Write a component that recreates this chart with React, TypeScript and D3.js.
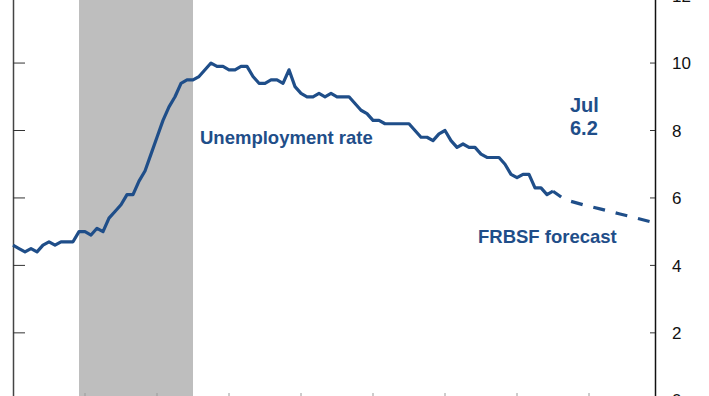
import React from "react";
import * as d3 from "d3";

// Monthly unemployment rate, Jan 2007 .. Jul 2014
const startYear = 2007;
const unemployment: number[] = [
  4.6, 4.5, 4.4, 4.5, 4.4, 4.6, 4.7, 4.6, 4.7, 4.7, 4.7, 5.0,
  5.0, 4.9, 5.1, 5.0, 5.4, 5.6, 5.8, 6.1, 6.1, 6.5, 6.8, 7.3,
  7.8, 8.3, 8.7, 9.0, 9.4, 9.5, 9.5, 9.6, 9.8, 10.0, 9.9, 9.9,
  9.8, 9.8, 9.9, 9.9, 9.6, 9.4, 9.4, 9.5, 9.5, 9.4, 9.8, 9.3,
  9.1, 9.0, 9.0, 9.1, 9.0, 9.1, 9.0, 9.0, 9.0, 8.8, 8.6, 8.5,
  8.3, 8.3, 8.2, 8.2, 8.2, 8.2, 8.2, 8.0, 7.8, 7.8, 7.7, 7.9,
  8.0, 7.7, 7.5, 7.6, 7.5, 7.5, 7.3, 7.2, 7.2, 7.2, 7.0, 6.7,
  6.6, 6.7, 6.7, 6.3, 6.3, 6.1, 6.2,
];
// Forecast: month index since Jan 2007 and value
const forecastMonths: number[] = [90, 92, 95, 98, 101, 104, 107];
const forecastValues: number[] = [6.2, 5.95, 5.8, 5.67, 5.53, 5.4, 5.26];
// Recession: Dec 2007 .. Jun 2009 (inclusive)
const recessionStart = 11;
const recessionEnd = 30;
const yearTicks: number[] = [2008, 2009, 2010, 2011, 2012, 2013, 2014, 2015];
const yTicks: number[] = [0, 2, 4, 6, 8, 10, 12];

const W = 709;
const H = 396;
const blue = "#1f4e89";
const font = "'Liberation Sans', Arial, sans-serif";

export default function App() {
  const x = d3.scaleLinear().domain([0, 107]).range([13, 655]);
  const y = d3.scaleLinear().domain([0, 12]).range([400.3, -4.4]);

  const line = d3
    .line<[number, number]>()
    .x((d) => x(d[0]))
    .y((d) => y(d[1]));

  const actual: [number, number][] = unemployment.map((v, i) => [i, v]);
  const fc: [number, number][] = forecastMonths.map((m, i) => [m, forecastValues[i]]);

  return (
    <div style={{ position: "fixed", left: 0, top: 0, width: W, height: H, background: "#fff" }}>
      <svg width={W} height={H} style={{ display: "block" }}>
        <rect x={0} y={0} width={W} height={H} fill="#fff" />
        {/* recession shading */}
        <rect
          x={x(recessionStart)}
          y={-20}
          width={x(recessionEnd) - x(recessionStart)}
          height={440}
          fill="#bebebe"
        />
        {/* x ticks (bottom axis beyond crop) */}
        {yearTicks.map((yr) => {
          const xx = x((yr - startYear) * 12);
          return <line key={yr} x1={xx} x2={xx} y1={400} y2={393} stroke="#9a9a9a" strokeWidth={1} />;
        })}
        {/* left axis */}
        <line x1={13.5} x2={13.5} y1={-10} y2={400} stroke="#444" strokeWidth={1.5} />
        {yTicks.map((t) => (
          <line key={"l" + t} x1={13} x2={25} y1={y(t)} y2={y(t)} stroke="#333" strokeWidth={1} />
        ))}
        {/* right axis */}
        <line x1={655.5} x2={655.5} y1={-10} y2={400} stroke="#111" strokeWidth={1.5} />
        {yTicks.map((t) => (
          <g key={"r" + t}>
            <line x1={650} x2={655} y1={y(t)} y2={y(t)} stroke="#333" strokeWidth={1} />
            <text
              x={672}
              y={y(t)}
              dy="0.36em"
              fontFamily={font}
              fontSize={17}
              fill="#111"
            >
              {t}
            </text>
          </g>
        ))}
        {/* actual line */}
        <path d={line(actual) || ""} fill="none" stroke={blue} strokeWidth={3.2} strokeLinejoin="round" />
        {/* forecast */}
        <path
          d={line(fc) || ""}
          fill="none"
          stroke={blue}
          strokeWidth={3.2}
          strokeDasharray="12 11"
          strokeDashoffset={2}
        />
        {/* labels */}
        <text x={200} y={144} fontFamily={font} fontWeight="bold" fontSize={18.5} fill={blue}>
          Unemployment rate
        </text>
        <text x={570} y={112} fontFamily={font} fontWeight="bold" fontSize={20} fill={blue}>
          Jul
        </text>
        <text x={570} y={135} fontFamily={font} fontWeight="bold" fontSize={20} fill={blue}>
          6.2
        </text>
        <text x={478} y={243} fontFamily={font} fontWeight="bold" fontSize={18.5} fill={blue}>
          FRBSF forecast
        </text>
      </svg>
    </div>
  );
}
